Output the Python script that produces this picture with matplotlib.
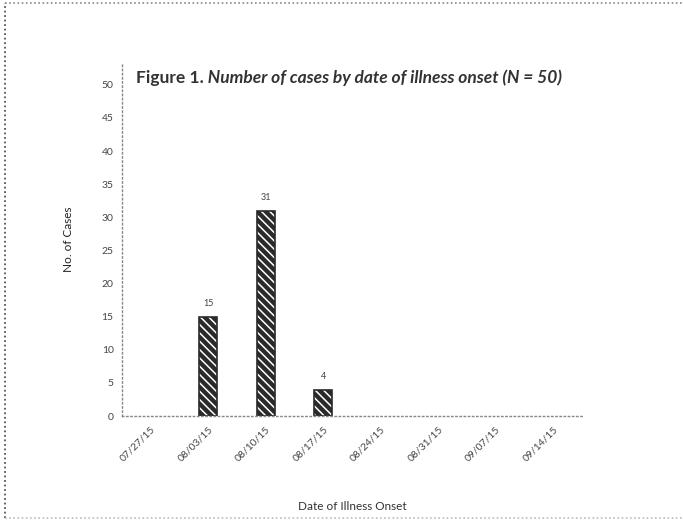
import matplotlib.pyplot as plt
from matplotlib.lines import Line2D

plt.rcParams['font.family'] = ['Lato', 'DejaVu Sans']
plt.rcParams['hatch.linewidth'] = 1.1

# weekly onset dates and case counts
onset_dates = ['07/27/15', '08/03/15', '08/10/15', '08/17/15',
               '08/24/15', '08/31/15', '09/07/15', '09/14/15']
cases = [0, 15, 31, 4, 0, 0, 0, 0]
y_ticks = list(range(0, 55, 5))

fig = plt.figure(figsize=(6.83, 5.21), dpi=100)
ax = fig.add_axes([122 / 683, 1 - 416 / 521, 460 / 683, 353 / 521])

x = list(range(len(onset_dates)))
shown = [i for i, v in enumerate(cases) if v > 0]
hx = [x[i] for i in shown]
hv = [cases[i] for i in shown]

# dark bars with white diagonal stripes, then a dark outline
ax.bar(hx, hv, width=0.32, color='#2a2a2a', edgecolor='white', hatch='\\\\\\\\', linewidth=0)
ax.bar(hx, hv, width=0.32, fill=False, edgecolor='#2a2a2a', linewidth=1.2)

for i, v in zip(hx, hv):
    ax.text(i, v + 1.3, str(v), ha='center', va='bottom', fontsize=6.5, color='#444444')

ax.set_xlim(-0.5, len(onset_dates) - 0.5)
ax.set_ylim(0, 53.3)
ax.set_yticks(y_ticks)
ax.set_xticks(x)
ax.set_xticklabels(onset_dates, rotation=45, ha='right', rotation_mode='anchor')
ax.tick_params(length=0, labelsize=7.5, labelcolor='#444444', pad=6)

for side in ['top', 'right']:
    ax.spines[side].set_visible(False)
for side in ['left', 'bottom']:
    ax.spines[side].set_linestyle((0, (1, 2)))
    ax.spines[side].set_color('#888888')
    ax.spines[side].set_linewidth(1.0)

ax.set_ylabel('No. of Cases', fontsize=8.5, color='#222222', labelpad=20)
fig.text(352 / 683, 1 - 507 / 521, 'Date of Illness Onset', ha='center', va='center',
         fontsize=8.5, color='#333333')

# title: plain label followed by italic caption
t1 = fig.text(136 / 683, 1 - 78 / 521, 'Figure 1.', fontsize=12.5, fontweight='bold',
              color='#333333', va='center')
ax.annotate(' Number of cases by date of illness onset (N = 50)', xy=(1, 0), xycoords=t1,
            va='bottom', fontsize=12.5, fontweight='bold', style='italic', color='#333333')

# dotted frame around the whole chart
frame = dict(linestyle=(0, (1, 1.5)), transform=fig.transFigure)
fig.add_artist(Line2D([5 / 683, 5 / 683], [3 / 521, 1 - 3 / 521], color='#555555', lw=1.3, **frame))
fig.add_artist(Line2D([5 / 683, 1], [1 - 3 / 521, 1 - 3 / 521], color='#888888', lw=1.2, **frame))
fig.add_artist(Line2D([5 / 683, 1], [3 / 521, 3 / 521], color='#bbbbbb', lw=1.2, **frame))

fig.savefig('out.png', dpi=100)
